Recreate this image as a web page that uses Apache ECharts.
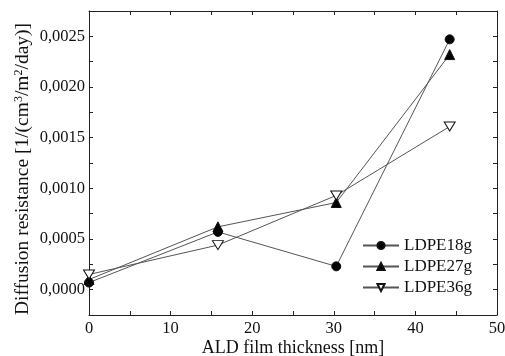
<!DOCTYPE html>
<html>
<head>
<meta charset="utf-8">
<script src="https://cdn.jsdelivr.net/npm/echarts@6/dist/echarts.min.js"></script>
<style>html,body{margin:0;padding:0;background:#fff}#c{width:505px;height:356px}</style>
</head>
<body>
<div id="c"></div>
<script>
var thickness = [0, 15.8, 30.3, 44.2];
var ldpe18g = [0.00007, 0.00057, 0.00023, 0.00247];
var ldpe27g = [0.00010, 0.00062, 0.00086, 0.00232];
var ldpe36g = [0.00015, 0.00044, 0.00093, 0.00161];
var seriesNames = ['LDPE18g', 'LDPE27g', 'LDPE36g'];
var xTickLabels = [0, 10, 20, 30, 40, 50];
var yTickLabels = [0, 0.0005, 0.0010, 0.0015, 0.0020, 0.0025];

function pairs(ys) { return thickness.map(function (x, i) { return [x, ys[i]]; }); }
var font = 'Liberation Serif';
function isIn(list, v) { return list.some(function (t) { return Math.abs(t - v) < 1e-9; }); }

var axisCommon = {
  axisLine: { show: true, onZero: false, lineStyle: { color: '#222', width: 1 } },
  axisTick: { show: true, inside: true, length: 4, lineStyle: { color: '#222' } },
  splitLine: { show: false }
};
function xAx(pos, labels) {
  return Object.assign({}, axisCommon, {
    type: 'value', position: pos, min: 0, max: 50, interval: 5,
    axisLabel: { show: labels, color: '#111', fontFamily: font, fontSize: 16.5, margin: 5,
      formatter: function (v) { return isIn(xTickLabels, v) ? String(v) : ''; } },
    name: labels ? 'ALD film thickness [nm]' : '', nameLocation: 'middle', nameGap: 24,
    nameMoveOverlap: false,
    nameTextStyle: { color: '#111', fontFamily: font, fontSize: 18 }
  });
}
function yAx(pos, labels) {
  return Object.assign({}, axisCommon, {
    type: 'value', position: pos, min: -0.00025, max: 0.00275, interval: 0.00025,
    axisLabel: { show: labels, color: '#111', fontFamily: font, fontSize: 16.5, margin: 4,
      formatter: function (v) { return isIn(yTickLabels, v) ? v.toFixed(4).replace('.', ',') : ''; } },
    name: labels ? 'Diffusion resistance [1/(cm{sup|3}/m{sup|2}/day)]' : '',
    nameLocation: 'middle', nameGap: 56, nameRotate: 90, nameMoveOverlap: false,
    nameTextStyle: { color: '#111', fontFamily: font, fontSize: 19.5, padding: [0, 12, 0, 0],
      rich: { sup: { fontFamily: font, fontSize: 12, verticalAlign: 'top', padding: [0, 0, 8, 0], color: '#111' } } }
  });
}
var invTri = 'path://M0,0 L10,0 L5,8.7 Z';
function ser(name, data, symbol, fill, size) {
  return {
    name: name, type: 'line', data: pairs(data), xAxisIndex: 0, yAxisIndex: 0,
    symbol: symbol, symbolSize: size, showAllSymbol: true,
    lineStyle: { color: '#555', width: 1 },
    itemStyle: { color: fill, borderColor: '#111', borderWidth: 1 },
    emphasis: { disabled: true }, animation: false
  };
}
var chart = echarts.init(document.getElementById('c'));
chart.setOption({
  animation: false,
  backgroundColor: '#fff',
  grid: { left: 89, right: 8, top: 11, bottom: 41, containLabel: false, outerBoundsMode: 'none' },
  xAxis: [xAx('bottom', true), xAx('top', false)],
  yAxis: [yAx('left', true), yAx('right', false)],
  legend: {
    orient: 'vertical', left: 357, top: 232, itemWidth: 36, itemHeight: 9, itemGap: 4,
    textStyle: { fontFamily: font, fontSize: 17, color: '#111' },
    data: seriesNames
  },
  series: [
    ser(seriesNames[0], ldpe18g, 'circle', '#000', 9),
    ser(seriesNames[1], ldpe27g, 'triangle', '#000', 10),
    ser(seriesNames[2], ldpe36g, invTri, '#fff', [11, 9])
  ]
});
</script>
</body>
</html>
